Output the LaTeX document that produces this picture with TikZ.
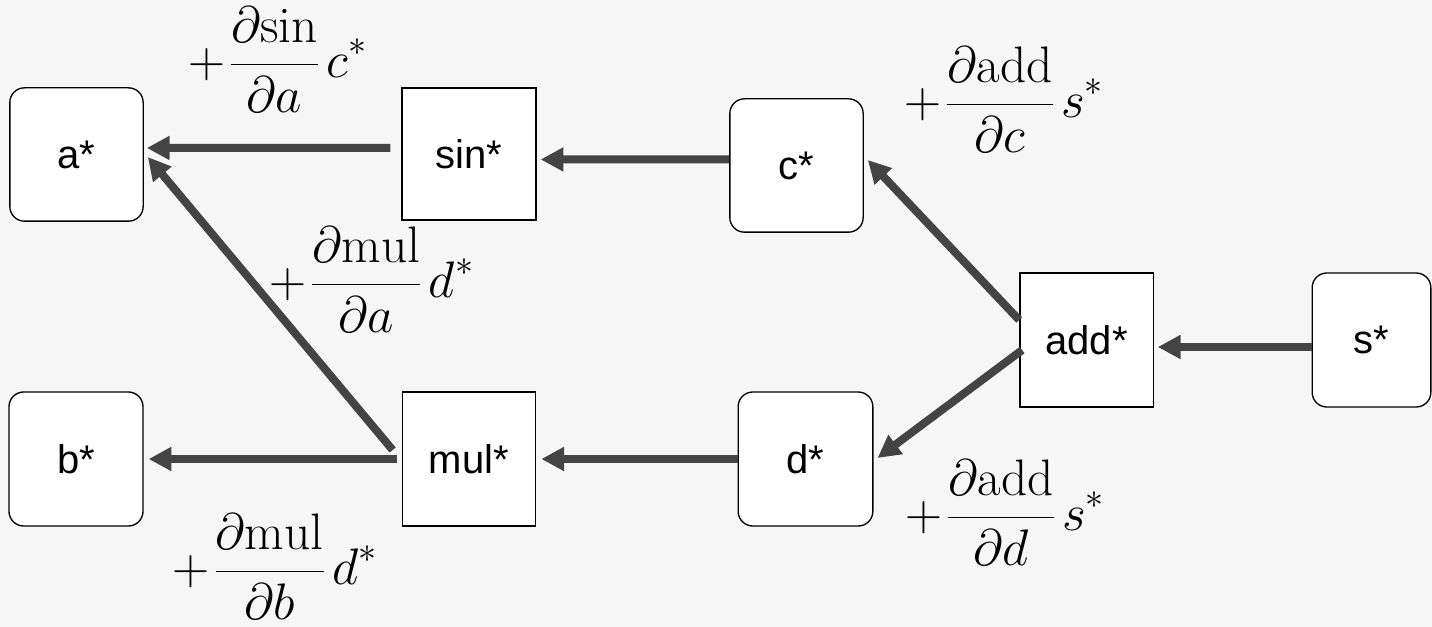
\RequirePackage{fix-cm}
\documentclass[tikz,border=0pt]{standalone}
\usepackage{fontspec}
\setsansfont{Liberation Sans}
\usetikzlibrary{arrows.meta}
\definecolor{bgcol}{RGB}{246,246,246}
\definecolor{arrowcol}{RGB}{68,68,68}
% one accumulated gradient term: + d(op)/d(x) y*
\newcommand{\gradterm}[3]{$\displaystyle +\mkern1.5mu\frac{\partial \mathrm{#1}}{\partial #2}\mkern2.5mu#3^*$}
\begin{document}
\begin{tikzpicture}[x=0.75pt,y=-0.75pt,
  box/.style={draw=black,line width=1pt,fill=white,inner sep=0pt,
    font=\sffamily\fontsize{30}{36}\selectfont},
  valbox/.style={box,rounded corners=11pt},
  opbox/.style={box},
  grad/.style={-{Triangle[length=17pt,width=17pt]},line width=6pt,draw=arrowcol},
  term/.style={inner sep=0pt,font=\fontsize{38.5}{46}\selectfont}]
  % canvas
  \fill[bgcol] (0,0) rectangle (1432,627);
  \useasboundingbox (0,0) rectangle (1432,627);

  % value nodes (rounded) and operation nodes (square)
  \node[valbox,minimum width=100pt,minimum height=100pt] (a) at (76.5,154.5) {a*};
  \node[opbox,minimum width=100.5pt,minimum height=99pt] (sin) at (469,154) {sin*};
  \node[valbox,minimum width=100pt,minimum height=100pt] (c) at (796.5,165.5) {c*};
  \node[opbox,minimum width=100pt,minimum height=100.5pt] (add) at (1086.5,340) {add*};
  \node[valbox,minimum width=89pt,minimum height=100.5pt] (s) at (1371.5,340) {s*};
  \node[valbox,minimum width=100.5pt,minimum height=100.5pt] (b) at (76,459) {b*};
  \node[opbox,minimum width=100pt,minimum height=100.5pt] (mul) at (469,459) {mul*};
  \node[valbox,minimum width=101pt,minimum height=100.5pt] (d) at (805.5,459) {d*};

  % gradient flow
  \draw[grad] ([xshift=-8.25pt,yshift=4.5pt]sin.west) -- ([xshift=2.25pt,yshift=4.9pt]a.east);
  \draw[grad] ([yshift=4.5pt]c.west) -- ([xshift=3pt,yshift=-4.1pt]sin.east);
  \draw[grad] ([xshift=-6.75pt,yshift=6.75pt]mul.west) -- ([xshift=3pt,yshift=-1.9pt]a.east);
  \draw[grad] ([xshift=-3.75pt]mul.west) -- ([xshift=3.75pt]b.east);
  \draw[grad] (d.west) -- ([xshift=3.75pt]mul.east);
  \draw[grad] ([yshift=15pt]add.west) -- ([xshift=3pt,yshift=4.1pt]c.east);
  \draw[grad] ([xshift=2.25pt,yshift=-7.5pt]add.west) -- ([xshift=3pt,yshift=0.75pt]d.east);
  \draw[grad] ([yshift=-5.25pt]s.west) -- ([xshift=3pt,yshift=-5.25pt]add.east);

  % accumulated terms
  \node[term] (t1) at (277.5,59.5) {\gradterm{sin}{a}{c}};
  \node[term] (t2) at (371.5,279.5) {\gradterm{mul}{a}{d}};
  \node[term] (t3) at (1004,99.5) {\gradterm{add}{c}{s}};
  \node[term] (t4) at (1005,512.5) {\gradterm{add}{d}{s}};
  \node[term] (t5) at (275,566.5) {\gradterm{mul}{b}{d}};
\end{tikzpicture}
\end{document}
